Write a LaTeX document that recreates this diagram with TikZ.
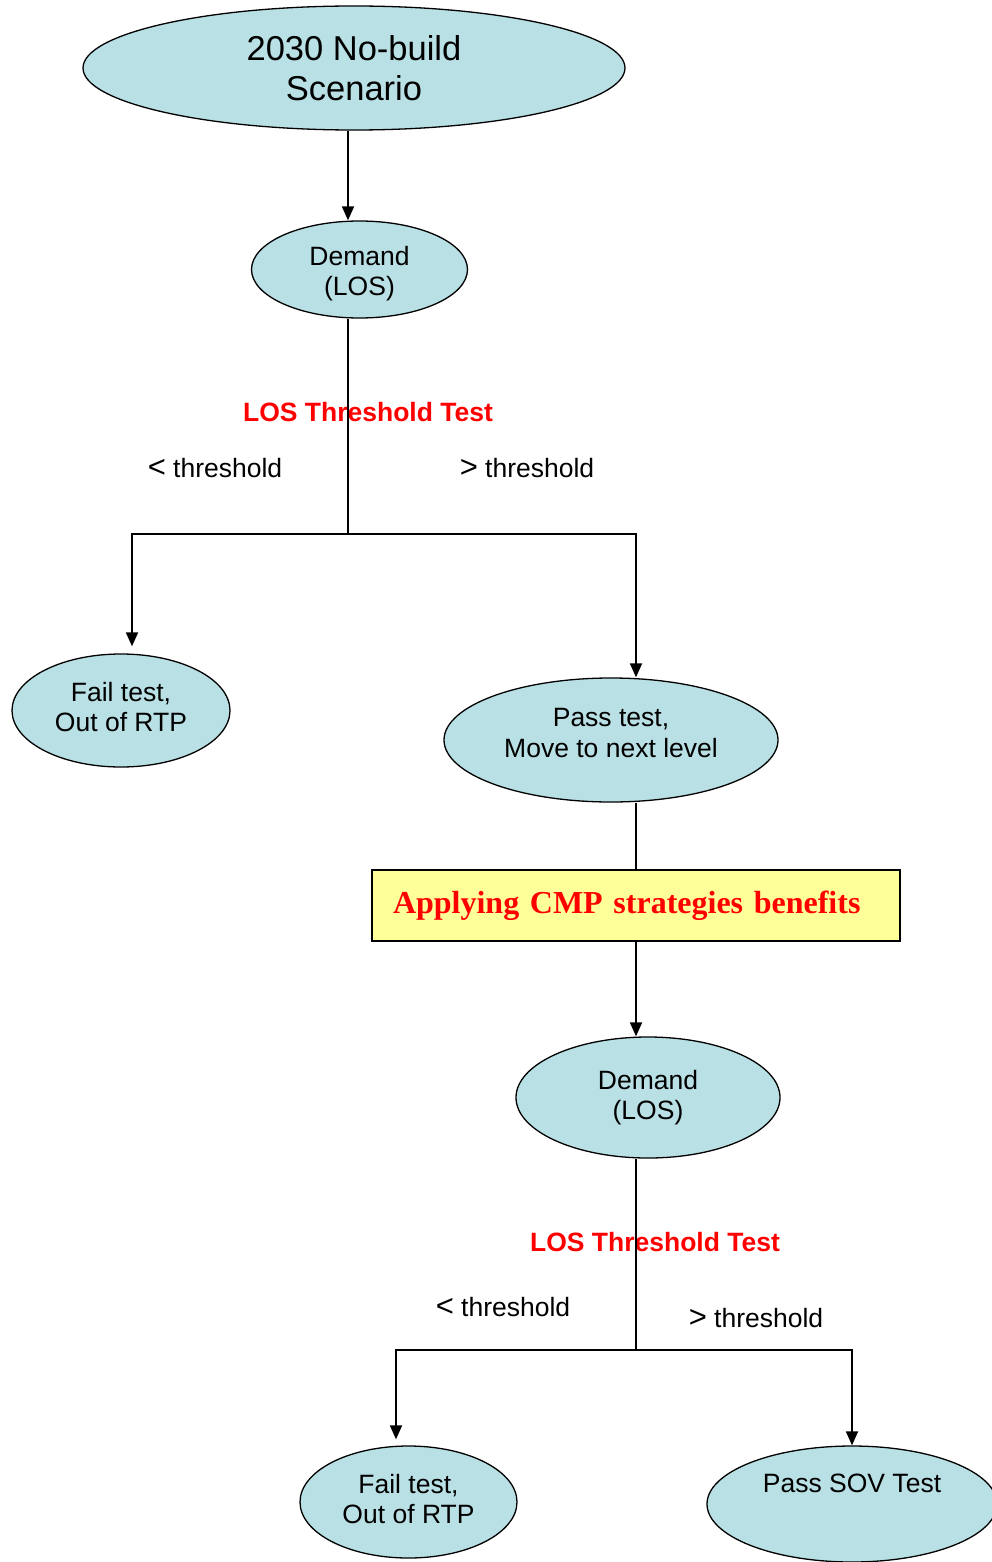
\documentclass[tikz,border=0pt]{standalone}
\usepackage{fontspec}
\setmainfont{Liberation Sans}
\newfontfamily\timesfont{Liberation Serif}
\usetikzlibrary{arrows.meta,shapes.geometric}

\definecolor{ovalfill}{RGB}{185,224,228}
\definecolor{boxfill}{RGB}{255,255,153}

\newcommand{\cmpsign}[1]{{\fontsize{31}{30}\selectfont#1}}

\begin{document}
\begin{tikzpicture}[
  x=1pt, y=-1pt,
  font=\fontsize{26.5}{30}\selectfont,
  every path/.style={line width=1.8pt},
  arr/.style={-{Triangle[length=14pt,width=12pt]}},
  oval/.style={draw, ellipse, fill=ovalfill, inner sep=0pt, align=center, line width=1.3pt},
  testlabel/.style={text=red, font=\fontsize{26.5}{30}\selectfont\bfseries},
  cmpbox/.style={draw, fill=boxfill, minimum width=528pt, minimum height=71pt, inner xsep=21pt,
    text width=486pt, align=left, text=red, font=\fontsize{32}{36}\timesfont\bfseries, line width=1.3pt}
]
\useasboundingbox (0,0) rectangle (991,1562);

% ----- Fixed coordinates for the two splits
\coordinate (split1) at (348,534);
\coordinate (split2) at (636,1350);

% ----- First level
\node[oval, minimum width=542pt, minimum height=124pt, font=\fontsize{34.5}{40}\selectfont]
  at (354,68) (scen) {2030 No-build\\Scenario};
\node[oval, minimum width=216pt, minimum height=97pt, text height=57pt] at (359.5,269.5) (dem1) {Demand\\(LOS)};
\draw[arr] (split1 |- scen.south) -- (split1 |- dem1.north);

\node[testlabel] at (368,412) (test1) {LOS Threshold Test};
\node at (215,468) (lt1) {\cmpsign{<} threshold};
\node at (527,468) (gt1) {\cmpsign{>} threshold};

\node[oval, minimum width=218pt, minimum height=113pt, text depth=8pt] at (121,710.5) (fail1) {Fail test,\\Out of RTP};
\node[oval, minimum width=334pt, minimum height=124pt, text depth=14pt, font=\fontsize{26.5}{31}\selectfont]
  at (611,740) (pass1) {Pass test,\\Move to next level};

\draw (split1 |- dem1.south) -- (split1);
\draw[arr] (split1) -| ([xshift=11pt,yshift=7pt]fail1.north);
\draw[arr] (split1) -| ([xshift=25pt]pass1.north);

% ----- CMP strategies
\node[cmpbox] at (636,905.5) (cmp) {Applying CMP strategies benefits};
\draw (cmp.north |- pass1.south) -- (cmp.north);

% ----- Second level
\node[oval, minimum width=264pt, minimum height=121pt] at (648,1097.5) (dem2) {Demand\\(LOS)};
\draw[arr] (cmp.south) -- (cmp.south |- dem2.north);

\node[testlabel] at (655,1242) (test2) {LOS Threshold Test};
\node at (503,1307) (lt2) {\cmpsign{<} threshold};
\node at (756,1318) (gt2) {\cmpsign{>} threshold};

\node[oval, minimum width=217pt, minimum height=112pt, text depth=6pt] at (408.5,1502) (fail2) {Fail test,\\Out of RTP};
\node[oval, minimum width=290pt, minimum height=116pt, text depth=12pt] at (852,1504) (sov) {Pass SOV Test\\\mbox{}};

\draw (split2 |- dem2.south) -- (split2);
\draw[arr] (split2) -| ([xshift=-12.5pt,yshift=6pt]fail2.north);
\draw[arr] (split2) -| (sov.north);

\end{tikzpicture}
\end{document}
